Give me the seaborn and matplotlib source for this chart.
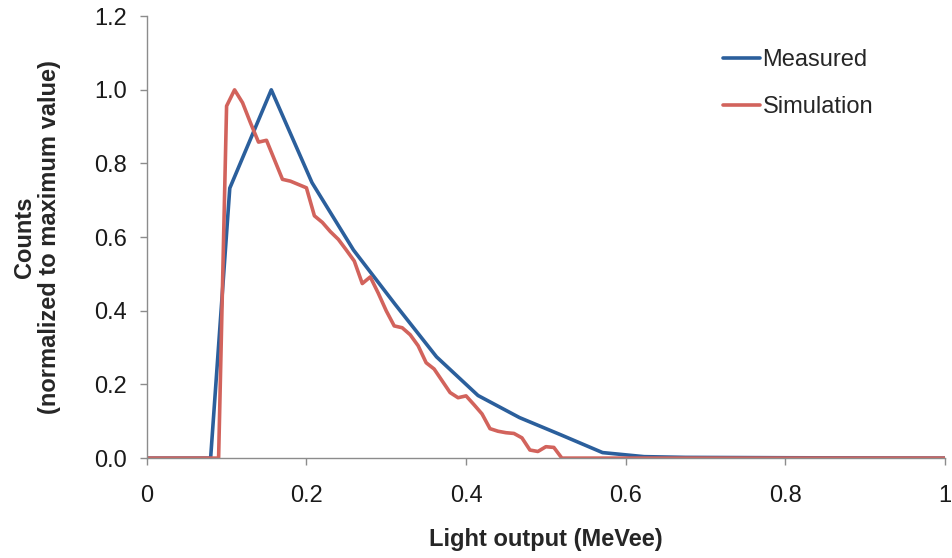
import matplotlib
matplotlib.use("Agg")
import matplotlib.pyplot as plt
import seaborn as sns
import pandas as pd

# Measured light-output spectrum (normalized)
measured_x = [0.0, 0.080, 0.104, 0.156, 0.207, 0.259, 0.311, 0.363, 0.415,
              0.467, 0.519, 0.571, 0.623, 0.675, 0.8, 1.0]
measured_y = [0.0, 0.0, 0.733, 1.0, 0.748, 0.565, 0.418, 0.275, 0.170,
              0.110, 0.063, 0.015, 0.004, 0.002, 0.001, 0.0]

# Simulated spectrum (normalized)
sim_x = [0.0, 0.09, 0.10, 0.11, 0.12, 0.13, 0.14, 0.15, 0.16, 0.17, 0.18,
         0.19, 0.20, 0.21, 0.22, 0.23, 0.24, 0.25, 0.26, 0.27, 0.28, 0.29,
         0.30, 0.31, 0.32, 0.33, 0.34, 0.35, 0.36, 0.37, 0.38, 0.39, 0.40,
         0.41, 0.42, 0.43, 0.44, 0.45, 0.46, 0.47, 0.48, 0.49, 0.50, 0.51,
         0.52, 1.0]
sim_y = [0.0, 0.0, 0.956, 1.0, 0.965, 0.91, 0.858, 0.863, 0.81, 0.757, 0.752,
         0.743, 0.734, 0.658, 0.640, 0.615, 0.594, 0.565, 0.535, 0.474, 0.492,
         0.448, 0.400, 0.359, 0.354, 0.335, 0.305, 0.259, 0.242, 0.210, 0.178,
         0.164, 0.169, 0.145, 0.120, 0.080, 0.073, 0.069, 0.067, 0.055, 0.022,
         0.018, 0.031, 0.029, 0.0, 0.0]

x_ticks = [0, 0.2, 0.4, 0.6, 0.8, 1.0]
x_tick_labels = ["0", "0.2", "0.4", "0.6", "0.8", "1"]
y_ticks = [0.0, 0.2, 0.4, 0.6, 0.8, 1.0, 1.2]
y_tick_labels = ["0.0", "0.2", "0.4", "0.6", "0.8", "1.0", "1.2"]

df = pd.concat([
    pd.DataFrame({"x": measured_x, "y": measured_y, "series": "Measured"}),
    pd.DataFrame({"x": sim_x, "y": sim_y, "series": "Simulation"}),
], ignore_index=True)

sns.set_style("white")
plt.rcParams["font.family"] = ["Liberation Sans", "DejaVu Sans"]

fig = plt.figure(figsize=(9.53, 5.58), dpi=100)
ax = fig.add_axes([0.154, 0.179, 0.8376, 0.792])

palette = {"Measured": "#2B5F9C", "Simulation": "#D2635C"}
sns.lineplot(data=df, x="x", y="y", hue="series", palette=palette,
             linewidth=2.6, sort=False, estimator=None, ax=ax)

ax.set_xlim(0, 1.0)
ax.set_ylim(0, 1.2)
ax.set_xticks(x_ticks)
ax.set_xticklabels(x_tick_labels)
ax.set_yticks(y_ticks)
ax.set_yticklabels(y_tick_labels)

for side in ("top", "right"):
    ax.spines[side].set_visible(False)
for side in ("left", "bottom"):
    ax.spines[side].set_color("#8C8C8C")
    ax.spines[side].set_linewidth(1.0)

ax.tick_params(axis="both", which="major", direction="out", length=5,
               width=1.0, color="#8C8C8C", labelsize=17, labelcolor="#1A1A1A")
ax.tick_params(axis="x", pad=14, bottom=True)
ax.tick_params(axis="y", pad=9, left=True)

ax.set_xlabel("Light output (MeVee)", fontsize=17, fontweight="bold",
              labelpad=15.5)
ax.set_ylabel("Counts\n(normalized to maximum value)", fontsize=17,
              fontweight="bold", labelpad=24, linespacing=1.1)

leg = ax.legend(loc="upper left", bbox_to_anchor=(0.722, 0.925),
                frameon=False, fontsize=17, handlelength=1.57,
                handletextpad=0.1, labelspacing=1.05, borderpad=0,
                borderaxespad=0)
for line in leg.get_lines():
    line.set_linewidth(2.6)

fig.savefig("out.png", dpi=100)
